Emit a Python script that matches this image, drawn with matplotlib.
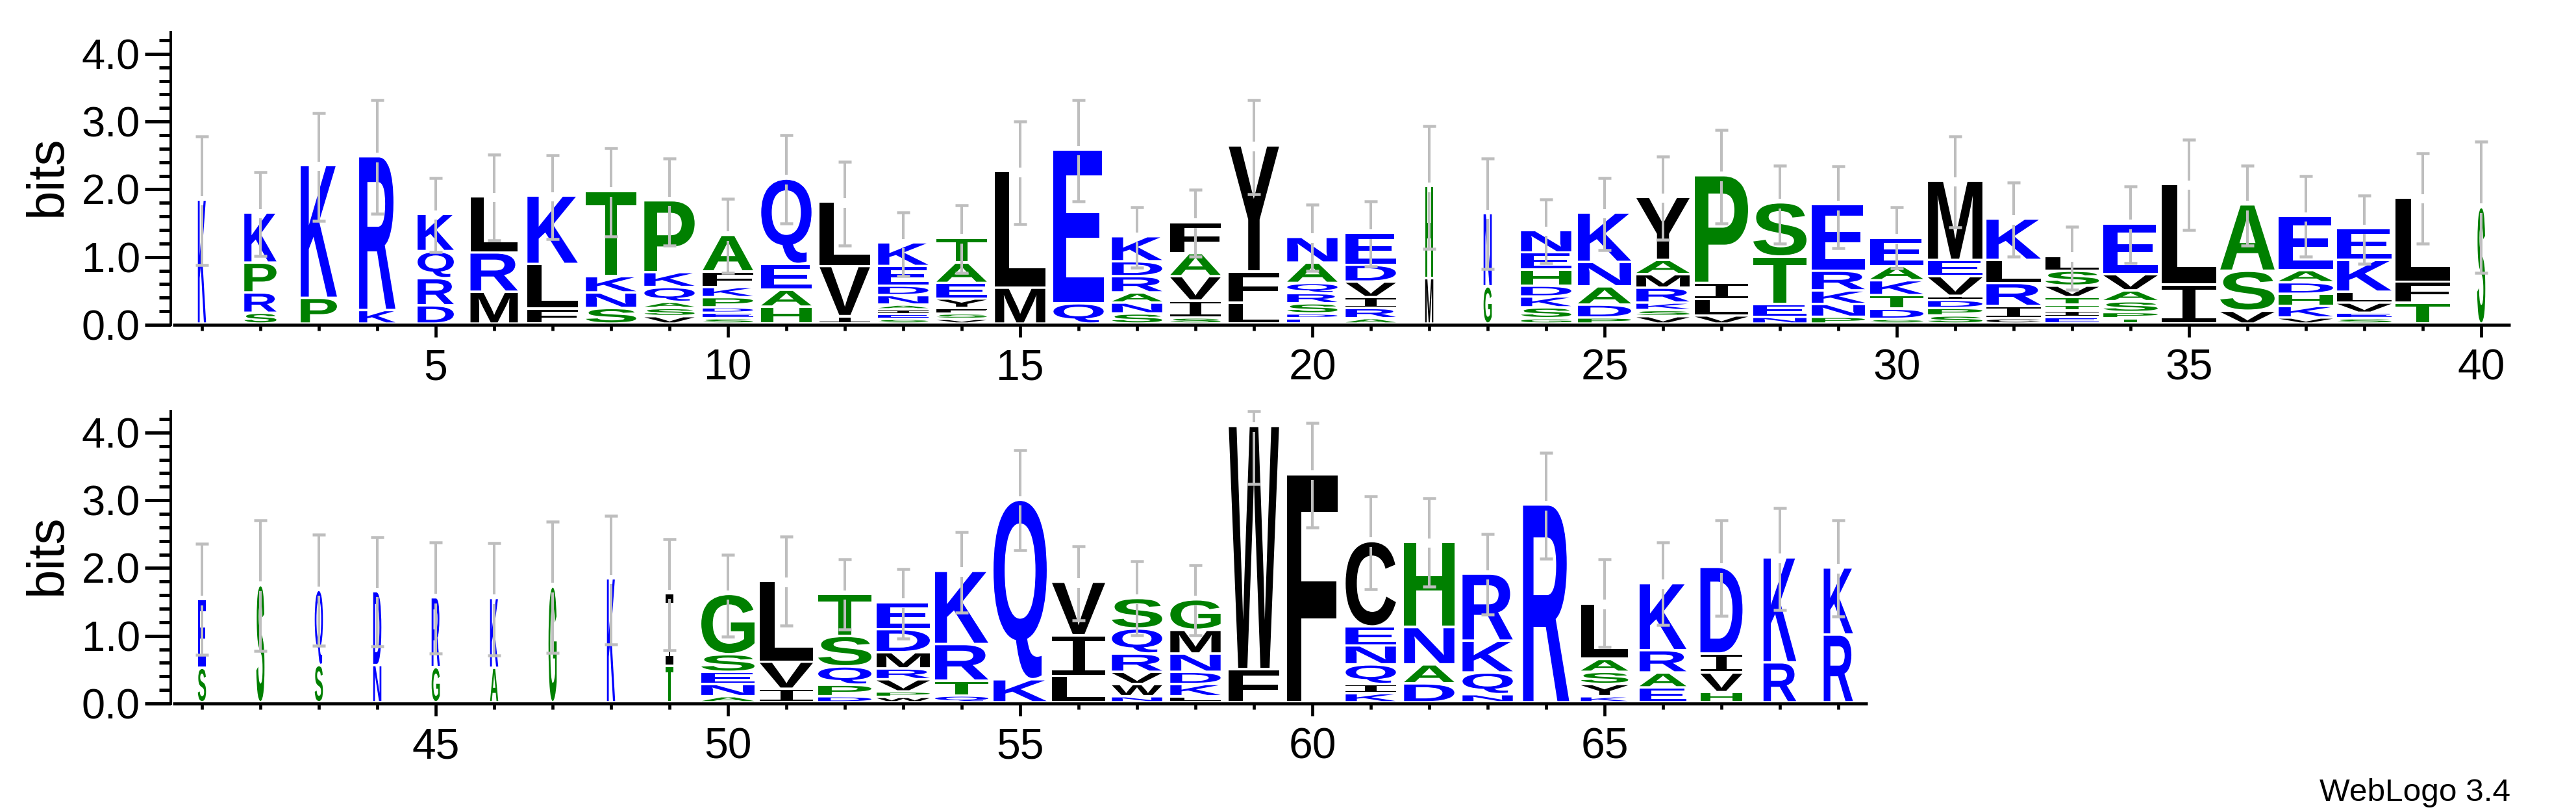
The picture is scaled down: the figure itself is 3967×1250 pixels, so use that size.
import matplotlib
matplotlib.use("Agg")
import matplotlib.pyplot as plt
from matplotlib.textpath import TextPath
from matplotlib.patches import PathPatch
from matplotlib.font_manager import FontProperties
from matplotlib.ticker import MultipleLocator, FixedLocator, NullFormatter
from matplotlib.transforms import Affine2D

plt.rcParams["font.family"] = ["Liberation Sans", "DejaVu Sans"]

# Stacks, listed from the bottom letter to the top letter
stack_letters = [
    "K", "SRPK", "PK", "KR", "DRQK", "MRL", "FLK", "SNKT", "VSAQKP", "SEDPKFA",
    "HAEQ", "IVL", "SEIANDEK", "VSFYEAT", "ML", "QE", "SNARDK", "SIVAF", "LFY", "EDSRQAN",
    "ARIVDE", "MH", "GN", "GSKDHEN", "PDANK", "VSKRMAY", "VLIP", "NETS", "PNKRE", "SDTKAE",
    "SPDIVEM", "CIRLK", "EITTVSL", "TPSAVE", "IL", "VSA", "VKHDAE", "SEVLKE", "TFL", "S",
    "SE", "S", "SQ", "ND", "GR", "AK", "G", "K", "TI", "ANESG",
    "IVL", "DPQST", "WPVRMDE", "QTRK", "KQ", "LIV", "NWVRQS", "LKDNMG", "FW", "F",
    "KIQNEC", "DANH", "NQKR", "R", "KYSAL", "EARK", "HVID", "RK", "RK",
]
stack_heights = [
    [1.83], [.16, .30, .44, .74], [.38, 1.96], [.20, 2.27], [.27, .40, .40, .55],
    [.47, .58, .83], [.22, .66, 1.01], [.23, .23, .24, 1.26],
    [.11, .12, .09, .22, .22, 1.06], [.08, .08, .08, .15, .15, .23, .54],
    [.25, .25, .38, 1.26], [.11, .74, .95], [.07, .07, .07, .07, .14, .14, .29, .35],
    [.07, .08, .08, .14, .23, .30, .37], [.53, 1.72], [.30, 2.27],
    [.15, .16, .15, .24, .22, .37], [.09, .25, .36, .34, .46], [.31, .46, 1.86],
    [.08, .07, .15, .15, .15, .30, .38], [.08, .15, .16, .23, .25, .47], [.67, 1.36],
    [.55, 1.08], [.08, .16, .16, .16, .24, .25, .33], [.09, .19, .27, .36, .73],
    [.11, .09, .11, .22, .20, .21, .93], [.12, .24, .24, 1.59], [.10, .19, .70, .80],
    [.10, .19, .20, .29, .98], [.07, .15, .20, .22, .21, .42],
    [.12, .11, .12, .06, .29, .24, 1.17], [.08, .18, .34, .34, .61],
    [.10, .09, .09, .11, .17, .22, .22], [.08, .09, .16, .16, .24, .75], [.58, 1.48],
    [.19, .59, .98], [.09, .17, .18, .17, .18, .80], [.08, .08, .15, .16, .47, .47],
    [.31, .31, 1.24], [1.72],
    [.51, 1.01], [1.73], [.55, 1.11], [.55, 1.09], [.52, 1.03], [.51, 1.03], [1.71], [1.83],
    [.54, 1.07], [.09, .18, .18, .26, .89], [.20, .40, 1.19], [.09, .17, .27, .45, .62],
    [.08, .08, .18, .16, .24, .34, .40], [.10, .22, .54, 1.08], [.34, 2.65], [.39, .60, .79],
    [.09, .18, .18, .27, .37, .45], [.09, .18, .18, .27, .35, .45], [.49, 3.59], [3.37],
    [.135, .135, .29, .28, .28, 1.26], [.28, .28, .55, 1.26], [.12, .32, .47, .99], [2.92],
    [.09, .18, .18, .19, .82], [.22, .22, .33, .99], [.15, .29, .28, 1.28], [.59, 1.55],
    [1.00, .99],
]
stack_widths = [
    .14, .55, .62, .62, .62, .81, .86, .86, .86, .86,
    .86, .86, .86, .86, .86, .86, .86, .86, .86, .86,
    .86, .14, .14, .86, .91, .91, .91, .91, .91, .91,
    .93, .93, .92, .93, .93, .93, .93, .93, .93, .14,
    .14, .14, .14, .14, .14, .14, .14, .14, .14, .91,
    .91, .91, .91, .91, .91, .91, .86, .86, .86, .86,
    .86, .86, .86, .79, .81, .80, .72, .56, .50,
]
err_high = [
    2.78, 2.25, 3.13, 3.32, 2.17, 2.51, 2.50, 2.61, 2.45, 1.86,
    2.80, 2.41, 1.66, 1.76, 3.00, 3.32, 1.74, 1.99, 3.32, 1.77,
    1.82, 2.93, 2.45, 1.85, 2.17, 2.48, 2.88, 2.35, 2.34, 1.74,
    2.78, 2.10, 1.45, 2.04, 2.73, 2.35, 2.20, 1.91, 2.53, 2.70,
    2.36, 2.70, 2.49, 2.45, 2.38, 2.37, 2.68, 2.77, 2.43, 2.20,
    2.46, 2.13, 1.98, 2.53, 3.74, 2.32, 2.10, 2.04, 4.31, 4.14,
    3.06, 3.03, 2.50, 3.70, 2.13, 2.38, 2.70, 2.89, 2.70,
]
err_low = [
    .88, 1.02, 1.53, 1.64, 1.07, 1.25, 1.27, 1.30, 1.17, .77,
    1.50, 1.17, .72, .77, 1.49, 1.82, .84, 1.01, 1.93, .80,
    .86, 1.12, .82, .91, 1.10, 1.26, 1.50, 1.20, 1.13, .83,
    1.44, 1.01, .52, .91, 1.40, 1.17, 1.01, .90, 1.20, .77,
    .72, .78, .85, .84, .74, .71, .75, .87, .79, .99,
    1.15, 1.09, .96, 1.34, 2.26, 1.23, 1.01, 1.01, 3.24, 2.60,
    1.69, 1.73, 1.31, 2.14, .83, 1.16, 1.29, 1.38, 1.28,
]
y_major = [0, 1, 2, 3, 4]

BLUE, GREEN, BLACK, GRAY = "#0000ff", "#008000", "#000000", "#bebebe"
letter_colors = {c: BLUE for c in "RKDENQ"}
letter_colors.update({c: GREEN for c in "SGHTAP"})
letter_colors.update({c: BLACK for c in "CYFWMILV"})

W, H, DPI = 3967, 1250, 100
px = 72.0 / DPI
fig = plt.figure(figsize=(W / DPI, H / DPI), dpi=DPI, facecolor="white")

sans_bold = FontProperties(family="Liberation Sans", weight="bold")
mono_regular = FontProperties(family="Liberation Mono", weight="normal")
LETTER_GAP = 0.036
GAP_HALF = 0.07


def draw_letter(ax, ch, xc, width, y0, y1):
    prop = mono_regular if ch == "I" else sans_bold
    path = TextPath((0, 0), ch, size=1, prop=prop)
    e = path.get_extents()
    tr = (Affine2D().translate(-e.x0, -e.y0)
          .scale(width / e.width, (y1 - y0) / e.height)
          .translate(xc - width / 2, y0))
    ax.add_patch(PathPatch(path, facecolor=letter_colors[ch], edgecolor="none", lw=0,
                           transform=tr + ax.transData, zorder=2, clip_on=False))


def panel(first, last, top_px, base_px, labels):
    left, xw = 266, 90 * (last - first + 1)
    ax = fig.add_axes([left / W, 1 - base_px / H, xw / W, (base_px - top_px) / H])
    per_bit = 104.3
    ax.set_xlim(first - 0.5, last + 0.5)
    ax.set_ylim(0, (base_px - top_px) / per_bit)
    ax.patch.set_alpha(0)
    for spine in ("top", "right"):
        ax.spines[spine].set_visible(False)
    ax.spines["left"].set_position(("outward", 3 * px))
    ax.spines["left"].set_linewidth(4 * px)
    ax.spines["bottom"].set_linewidth(4.7 * px)
    ax.spines["bottom"].set_capstyle("butt")

    for pos in range(first, last + 1):
        i = pos - 1
        y = 0.0
        for ch, h in zip(stack_letters[i], stack_heights[i]):
            draw_letter(ax, ch, pos, stack_widths[i], y + LETTER_GAP, y + h)
            y += h
        hi, lo = err_high[i], err_low[i]
        segs = [(lo, y - GAP_HALF), (y + GAP_HALF, hi)]
        for a, b in segs:
            ax.vlines(pos, a, b, colors=GRAY, linewidths=4 * px, zorder=3,
                      capstyle="butt", clip_on=False)
        for v in (lo, hi):
            ax.hlines(v, pos - 0.115, pos + 0.115, colors=GRAY, linewidths=4.5 * px,
                      zorder=3, capstyle="butt", clip_on=False)

    ax.yaxis.set_major_locator(FixedLocator(y_major))
    ax.yaxis.set_minor_locator(MultipleLocator(0.2))
    ax.set_yticklabels([f"{v:.1f}" for v in y_major], fontsize=65 * px)
    ax.tick_params(axis="y", which="major", length=40 * px, width=5 * px, pad=7 * px)
    ax.tick_params(axis="y", which="minor", length=18 * px, width=5 * px)

    ax.xaxis.set_major_locator(FixedLocator(labels))
    ax.xaxis.set_minor_locator(FixedLocator(list(range(first, last + 1))))
    ax.xaxis.set_minor_formatter(NullFormatter())
    ax.set_xticklabels([str(v) for v in labels], fontsize=66 * px)
    ax.tick_params(axis="x", which="major", length=18.5 * px, width=4.7 * px, pad=18 * px)
    ax.tick_params(axis="x", which="minor", length=8.5 * px, width=4.7 * px)

    fig.text(94 / W, 1 - ((top_px + base_px) / 2 - 4) / H, "bits", rotation=90,
             rotation_mode="anchor", ha="center", va="baseline", fontsize=80 * px)
    return ax


panel(1, 40, 50, 500, [5, 10, 15, 20, 25, 30, 35, 40])
panel(41, 69, 633, 1083, [45, 50, 55, 60, 65])

fig.text(3866 / W, 1 - 1233 / H, "WebLogo 3.4", ha="right", va="baseline", fontsize=49.5 * px)

fig.savefig("out.png", dpi=DPI, facecolor="white")
